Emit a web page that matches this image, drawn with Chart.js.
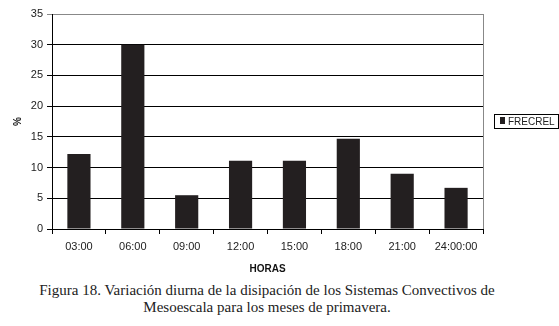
<!DOCTYPE html>
<html><head><meta charset="utf-8">
<script src="https://cdn.jsdelivr.net/npm/chart.js@4"></script>
<style>
html,body{margin:0;padding:0;background:#fff;width:559px;height:326px;overflow:hidden;}
#wrap{position:absolute;left:0;top:0;width:559px;height:275px;}
#legend{position:absolute;left:494px;top:114px;border:1px solid #000;padding:1px 3px 1px 5px;font:10px "Liberation Sans",Arial,sans-serif;color:#222;white-space:nowrap;line-height:11px;}
#legend span.sw{display:inline-block;width:5px;height:7px;background:#231f20;margin-right:3px;vertical-align:1px;}
#cap{position:absolute;left:0;top:282px;width:534px;text-align:center;font:15px "Liberation Serif","Times New Roman",serif;color:#222;line-height:17px;}
</style></head>
<body>
<div id="wrap"><canvas id="c" width="559" height="275"></canvas></div>
<div id="legend"></div>
<div id="cap">Figura 18. Variación diurna de la disipación de los Sistemas Convectivos de<br>Mesoescala para los meses de primavera.</div>
<script>
const categories = ["03:00","06:00","09:00","12:00","15:00","18:00","21:00","24:00:00"];
const seriesName = "FRECREL";
const frecrel = [12.2, 30, 5.5, 11.1, 11.1, 14.7, 9.0, 6.7];
const yTicks = [0,5,10,15,20,25,30,35];
const xTitle = "HORAS";
const yTitle = "%";

document.getElementById('legend').innerHTML = '<span class="sw"></span>' + seriesName;

const frame = {
  id:'frame',
  afterDraw(chart){
    const a = chart.chartArea, ctx = chart.ctx;
    ctx.save();
    ctx.strokeStyle = '#888';
    ctx.lineWidth = 1;
    ctx.beginPath();
    ctx.moveTo(Math.round(a.right)+0.5, a.top);
    ctx.lineTo(Math.round(a.right)+0.5, a.bottom);
    ctx.stroke();
    ctx.restore();
  }
};

new Chart(document.getElementById('c'), {
  type:'bar',
  data:{labels:categories, datasets:[{label:seriesName, data:frecrel, backgroundColor:'#231f20', borderWidth:0, barPercentage:0.43, categoryPercentage:1}]},
  options:{
    responsive:false, animation:false, devicePixelRatio:1,
    layout:{padding:{left:0,right:76,top:14,bottom:0}},
    plugins:{legend:{display:false}, tooltip:{enabled:false}},
    scales:{
      x:{
        offset:true,
        grid:{offset:true, drawOnChartArea:false, drawTicks:true, tickLength:5, color:'#000'},
        border:{color:'#000', width:1},
        ticks:{color:'#222', font:{family:'"Liberation Sans", Arial, sans-serif', size:11}, padding:6, maxRotation:0, autoSkip:false},
        title:{display:true, text:xTitle, color:'#111', font:{family:'"Liberation Sans", Arial, sans-serif', size:10, weight:'bold'}, padding:{top:10,bottom:0}},
        afterFit(s){ s.height = 46; }
      },
      y:{
        min:0, max:35,
        afterBuildTicks(s){ s.ticks = yTicks.map(v=>({value:v})); },
        grid:{color:(c)=> c.tick && c.tick.value===35 ? '#888' : '#000', tickLength:5, drawTicks:true, lineWidth:1},
        border:{color:'#000', width:1},
        ticks:{color:'#222', font:{family:'"Liberation Sans", Arial, sans-serif', size:11}, padding:4},
        title:{display:true, text:yTitle, color:'#111', font:{family:'"Liberation Sans", Arial, sans-serif', size:10, weight:'bold'}, padding:{top:12,bottom:12}},
        afterFit(s){ s.width = 52; }
      }
    }
  },
  plugins:[frame]
});
</script>
</body></html>
